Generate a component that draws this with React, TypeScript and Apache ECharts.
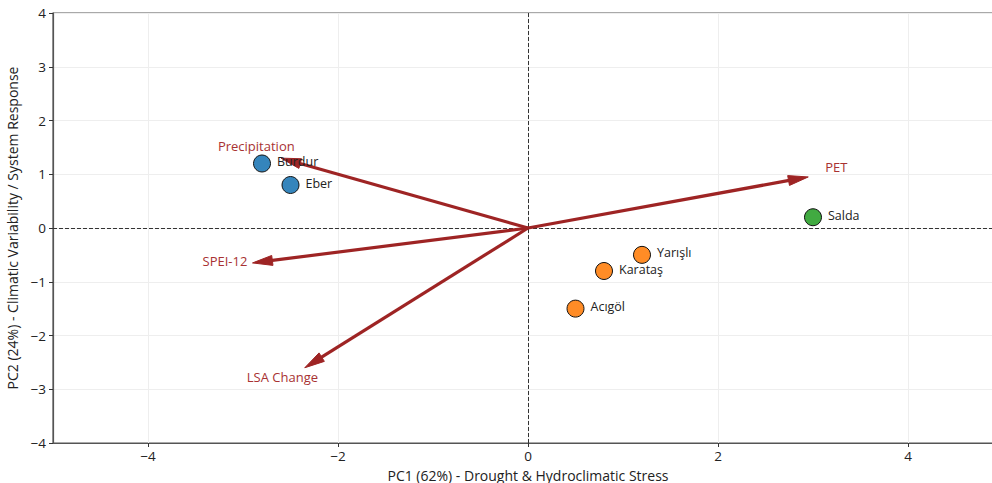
import React, { useEffect, useRef } from "react";
import * as echarts from "echarts";

// Site scores on the first two principal components
const lakes = ["Burdur", "Eber", "Salda", "Yarışlı", "Karataş", "Acıgöl"];
const pc1Scores = [-2.8, -2.5, 3.0, 1.2, 0.8, 0.5];
const pc2Scores = [1.2, 0.8, 0.2, -0.5, -0.8, -1.5];
const clusterOf = [0, 0, 2, 1, 1, 1];
const clusterColors = ["#3585bc", "#ff8c26", "#41aa41"];

// Variable loadings (scaled for the biplot)
const variables = ["Precipitation", "PET", "SPEI-12", "LSA Change"];
const loadingPc1 = [-2.6, 2.95, -2.9, -2.35];
const loadingPc2 = [1.3, 0.95, -0.65, -2.6];

const xTicks = [-4, -2, 0, 2, 4];

const FONT = "'Open Sans'";
const ARROW = "#9e2424";
const ARROW_TEXT = "#a83232";

const fmt = (v: number) => (v < 0 ? "\u2212" + Math.abs(v) : String(v));

export default function App() {
  const ref = useRef<HTMLDivElement>(null);

  useEffect(() => {
    if (!ref.current) return;
    const chart = echarts.init(ref.current, undefined, { renderer: "svg" });

    const siteData = lakes.map((name, i) => ({
      name,
      value: [pc1Scores[i], pc2Scores[i]],
      itemStyle: { color: clusterColors[clusterOf[i]] },
    }));

    const arrowData = variables.map((name, i) => ({
      name,
      value: [loadingPc1[i], loadingPc2[i]],
    }));

    chart.setOption({
      animation: false,
      textStyle: { fontFamily: FONT },
      grid: {
        left: 53,
        right: -11,
        top: 13,
        bottom: 40,
        outerBoundsMode: "none",
        containLabel: false,
        show: true,
        borderColor: "#555",
        borderWidth: 1.2,
        backgroundColor: "transparent",
      },
      xAxis: {
        type: "value",
        min: -5,
        max: 5,
        name: "PC1 (62%) - Drought & Hydroclimatic Stress",
        nameLocation: "middle",
        nameGap: 25,
        nameTextStyle: { fontSize: 14, color: "#222", fontFamily: FONT },
        axisLine: { show: true, onZero: false, lineStyle: { color: "#555", width: 1.2 } },
        axisTick: { show: true, length: 4, customValues: xTicks, lineStyle: { color: "#333" } },
        axisLabel: {
          customValues: xTicks,
          formatter: fmt,
          fontSize: 13.5,
          color: "#222",
          margin: 6,
          fontFamily: FONT,
        },
        splitLine: { show: true, lineStyle: { color: "#eeeeee", width: 1 } },
      },
      yAxis: {
        type: "value",
        min: -4,
        max: 4,
        interval: 1,
        name: "PC2 (24%) - Climatic Variability / System Response",
        nameLocation: "middle",
        nameGap: 25,
        nameTextStyle: { fontSize: 14, color: "#222", fontFamily: FONT },
        axisLine: { show: true, onZero: false, lineStyle: { color: "#555", width: 1.2 } },
        axisTick: { show: true, length: 4, lineStyle: { color: "#333" } },
        axisLabel: {
          formatter: fmt,
          fontSize: 13.5,
          color: "#222",
          margin: 7,
          fontFamily: FONT,
        },
        splitLine: { show: true, lineStyle: { color: "#eeeeee", width: 1 } },
      },
      series: [
        {
          type: "custom",
          name: "loadings",
          z: 3,
          silent: true,
          data: arrowData,
          renderItem: (params: any, api: any) => {
            const vx = api.value(0);
            const vy = api.value(1);
            const o = api.coord([0, 0]);
            const t = api.coord([vx, vy]);
            const lp = api.coord([vx * 1.1, vy * 1.1]);
            const dx = t[0] - o[0];
            const dy = t[1] - o[1];
            const len = Math.sqrt(dx * dx + dy * dy);
            const ux = dx / len;
            const uy = dy / len;
            const headLen = 20;
            const headHalf = 5;
            const bx = t[0] - ux * headLen;
            const by = t[1] - uy * headLen;
            const nx = -uy;
            const ny = ux;
            return {
              type: "group",
              children: [
                {
                  type: "line",
                  shape: { x1: o[0], y1: o[1], x2: bx + ux * 2, y2: by + uy * 2 },
                  style: { stroke: ARROW, lineWidth: 3.2 },
                },
                {
                  type: "polygon",
                  shape: {
                    points: [
                      [t[0], t[1]],
                      [bx + nx * headHalf, by + ny * headHalf],
                      [bx - nx * headHalf, by - ny * headHalf],
                    ],
                  },
                  style: { fill: ARROW, stroke: ARROW, lineWidth: 1 },
                },
                {
                  type: "text",
                  x: lp[0],
                  y: lp[1] - 5,
                  style: {
                    text: variables[params.dataIndex],
                    fill: ARROW_TEXT,
                    font: `13px ${FONT}`,
                    align: "center",
                    verticalAlign: "middle",
                  },
                },
              ],
            };
          },
        },
        {
          type: "scatter",
          name: "sites",
          z: 4,
          symbolSize: 17,
          data: siteData,
          itemStyle: { borderColor: "#111", borderWidth: 1, opacity: 1 },
          label: {
            show: true,
            position: "right",
            distance: 6,
            offset: [0, -2],
            formatter: "{b}",
            fontSize: 12.5,
            lineHeight: 13,
            color: "#222",
            fontFamily: FONT,
          },
          markLine: {
            silent: true,
            symbol: "none",
            label: { show: false },
            lineStyle: { color: "#333", type: [4, 2], width: 1 },
            data: [{ xAxis: 0 }, { yAxis: 0 }],
            z: 1,
          },
        },
      ],
    });

    return () => chart.dispose();
  }, []);

  return (
    <div
      ref={ref}
      style={{ position: "fixed", left: 0, top: 0, width: 992, height: 483, background: "#fff" }}
    />
  );
}
